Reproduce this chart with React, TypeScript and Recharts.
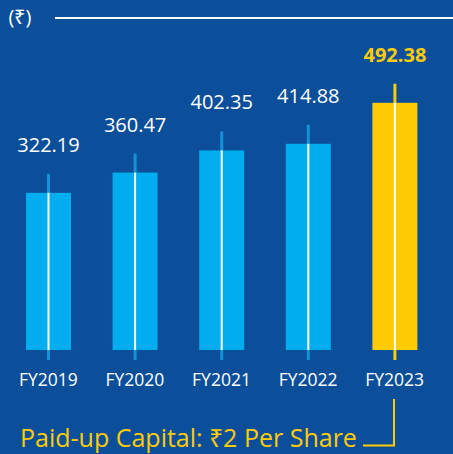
import React from "react";
import { BarChart, Bar, XAxis, YAxis, LabelList } from "recharts";

const categories = ["FY2019", "FY2020", "FY2021", "FY2022", "FY2023"];
const values = [322.19, 360.47, 402.35, 414.88, 492.38];
const valueLabels = ["322.19", "360.47", "402.35", "414.88", "492.38"];
const unitLabel = "(₹)";
const footnote = "Paid-up Capital: ₹2 Per Share";
const HIGHLIGHT = 4;

const data = categories.map((c, i) => ({ cat: c, value: values[i], label: valueLabels[i] }));

const BG = "#0b4f9b";
const BLUE = "#00aeef";
const STEM = "#1592d6";
const YELLOW = "#ffcb05";
const FONT = "'Open Sans', sans-serif";

const BarShape = (props: any) => {
  const { x, y, width, height, index } = props;
  const hl = index === HIGHLIGHT;
  const cx = x + width / 2;
  return (
    <g>
      <line x1={cx} x2={cx} y1={y - 19} y2={y + height + 10} stroke={hl ? YELLOW : STEM} strokeWidth={3} />
      <rect x={x} y={y} width={width} height={height} fill={hl ? YELLOW : BLUE} />
      <line x1={cx} x2={cx} y1={y} y2={y + height} stroke="#ffffff" strokeWidth={2} />
    </g>
  );
};

const ValueLabel = (props: any) => {
  const { x, y, width, index } = props;
  const hl = index === HIGHLIGHT;
  return (
    <text
      x={x + width / 2}
      y={y - 41}
      textAnchor="middle"
      fill={hl ? YELLOW : "#ffffff"}
      fontFamily={FONT}
      fontSize={20}
      fontWeight={hl ? 700 : 400}
    >
      {valueLabels[index]}
    </text>
  );
};

const Tick = (props: any) => {
  const { x, y, payload } = props;
  return (
    <text x={x} y={y} dy={28} textAnchor="middle" fill="#ffffff" fontFamily={FONT} fontSize={17.5}>
      {payload.value}
    </text>
  );
};

export default function App() {
  return (
    <div style={{ position: "absolute", left: 0, top: 0, width: 453, height: 454, background: BG, overflow: "hidden" }}>
      <BarChart width={453} height={454} data={data} margin={{ top: 20, right: 15, left: 5, bottom: 74 }}>
        <XAxis dataKey="cat" axisLine={false} tickLine={false} height={30} interval={0} tick={<Tick />} />
        <YAxis hide domain={[25, 649]} />
        <Bar dataKey="value" barSize={45} isAnimationActive={false} shape={<BarShape />}>
          <LabelList dataKey="value" content={<ValueLabel />} />
        </Bar>
      </BarChart>
      <svg width={453} height={454} style={{ position: "absolute", left: 0, top: 0, pointerEvents: "none" }}>
        <text x={20} y={24} textAnchor="middle" fill="#ffffff" fontFamily={FONT} fontSize={20}>
          {unitLabel}
        </text>
        <line x1={55} x2={453} y1={18} y2={18} stroke="#ffffff" strokeWidth={2} />
        <text x={20} y={447} fill={YELLOW} fontFamily={FONT} fontSize={25}>
          {footnote}
        </text>
        <polyline points="394,399 394,445.5 363,445.5" fill="none" stroke={YELLOW} strokeWidth={2} />
      </svg>
    </div>
  );
}
